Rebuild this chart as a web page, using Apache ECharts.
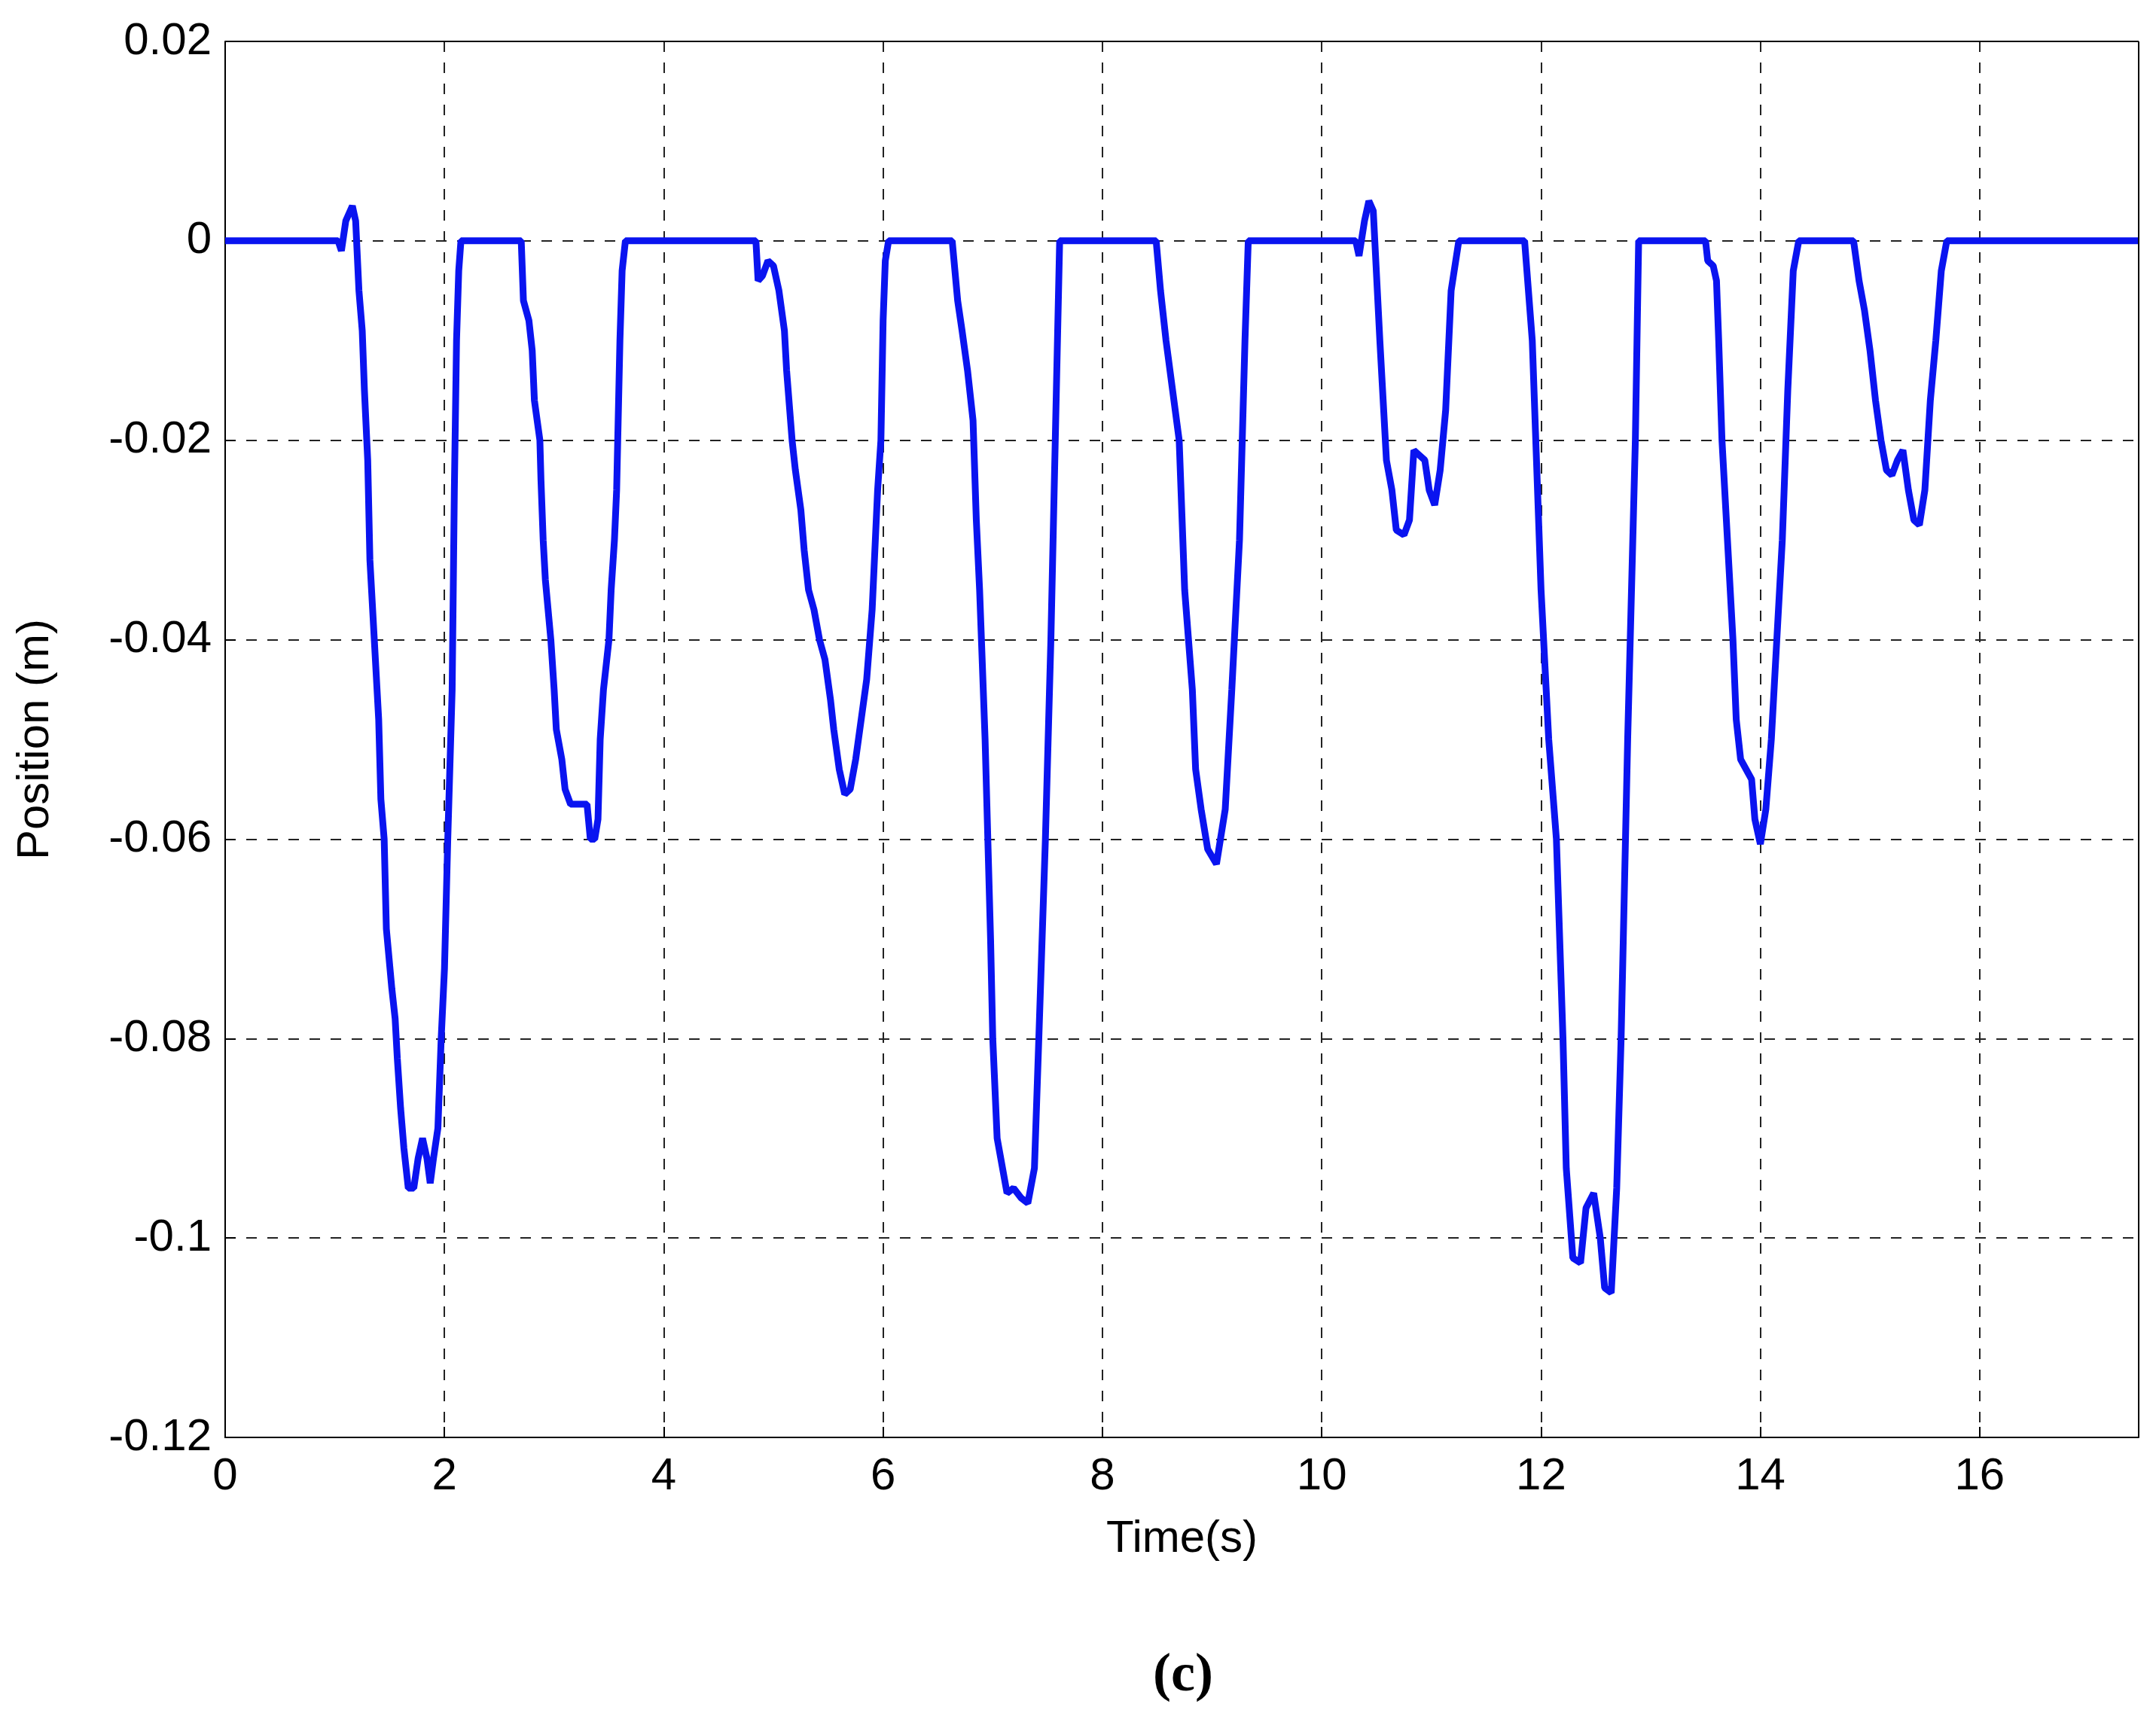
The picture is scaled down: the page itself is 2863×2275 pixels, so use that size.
<!DOCTYPE html>
<html>
<head>
<meta charset="utf-8">
<script src="https://cdn.jsdelivr.net/npm/echarts@6/dist/echarts.min.js"></script>
<style>
html, body { margin: 0; background: #fff; }
#chart { width: 2863px; height: 2275px; }
</style>
</head>
<body>
<div id="chart"></div>
<script>
// time (s) and position (m)
var times = [0, 1.03, 1.06, 1.1, 1.16, 1.19, 1.22, 1.25, 1.27, 1.3, 1.32, 1.36, 1.4, 1.42, 1.45, 1.47, 1.52, 1.55, 1.57, 1.6, 1.63, 1.67, 1.72, 1.76, 1.8, 1.84, 1.87, 1.9, 1.94, 1.97, 2.0, 2.03, 2.07, 2.09, 2.11, 2.13, 2.15,
	2.7, 2.72, 2.77, 2.8, 2.82, 2.87, 2.88, 2.9, 2.92, 2.97, 3.0, 3.02, 3.07, 3.1, 3.15, 3.3, 3.33, 3.37, 3.4, 3.42, 3.45, 3.5, 3.52, 3.55, 3.57, 3.6, 3.62, 3.65,
	4.84, 4.86, 4.9, 4.95, 5.0, 5.05, 5.1, 5.12, 5.17, 5.2, 5.25, 5.28, 5.32, 5.37, 5.42, 5.47, 5.52, 5.55, 5.6, 5.65, 5.7, 5.75, 5.8, 5.85, 5.9, 5.95, 5.98, 6.0, 6.02, 6.05,
	6.63, 6.68, 6.72, 6.77, 6.82, 6.85, 6.88, 6.93, 6.98, 7.0, 7.04, 7.13, 7.19, 7.26, 7.32, 7.38, 7.42, 7.48, 7.53, 7.57, 7.61,
	8.49, 8.53, 8.58, 8.64, 8.7, 8.75, 8.82, 8.85, 8.9, 8.96, 9.04, 9.12, 9.18, 9.25, 9.3, 9.33,
	10.31, 10.34, 10.39, 10.43, 10.47, 10.53, 10.59, 10.64, 10.68, 10.75, 10.8, 10.84, 10.94, 10.98, 11.03, 11.08, 11.13, 11.18, 11.25,
	11.85, 11.92, 12.0, 12.07, 12.14, 12.2, 12.23, 12.29, 12.36, 12.41, 12.48, 12.54, 12.58, 12.64, 12.69, 12.73, 12.79, 12.86, 12.89,
	13.5, 13.52, 13.57, 13.6, 13.62, 13.65, 13.7, 13.75, 13.78, 13.82, 13.87, 13.92, 13.95, 14.0, 14.05, 14.1, 14.15, 14.2, 14.25, 14.3, 14.35,
	14.85, 14.9, 14.95, 15.0, 15.05, 15.1, 15.15, 15.2, 15.25, 15.3, 15.35, 15.4, 15.45, 15.5, 15.55, 15.6, 15.65, 15.7, 17.45];
var positions = [0, 0, -0.001, 0.002, 0.0035, 0.002, -0.005, -0.009, -0.015, -0.022, -0.032, -0.04, -0.048, -0.056, -0.06, -0.069, -0.075, -0.078, -0.082, -0.087, -0.091, -0.095, -0.095, -0.092, -0.09, -0.092, -0.0945, -0.092, -0.089, -0.08, -0.073, -0.06, -0.045, -0.025, -0.01, -0.003, 0,
	0, -0.006, -0.008, -0.011, -0.016, -0.02, -0.024, -0.03, -0.034, -0.04, -0.045, -0.049, -0.052, -0.055, -0.0565, -0.0565, -0.06, -0.06, -0.058, -0.05, -0.045, -0.04, -0.035, -0.03, -0.025, -0.01, -0.003, 0,
	0, -0.004, -0.0035, -0.002, -0.0025, -0.005, -0.009, -0.013, -0.02, -0.023, -0.027, -0.031, -0.035, -0.037, -0.04, -0.042, -0.046, -0.049, -0.053, -0.0555, -0.055, -0.052, -0.048, -0.044, -0.037, -0.025, -0.02, -0.008, -0.002, 0,
	0, -0.006, -0.009, -0.013, -0.018, -0.028, -0.035, -0.05, -0.07, -0.08, -0.09, -0.0955, -0.095, -0.096, -0.0965, -0.093, -0.08, -0.06, -0.04, -0.02, 0,
	0, -0.005, -0.01, -0.015, -0.02, -0.035, -0.045, -0.053, -0.057, -0.061, -0.0625, -0.057, -0.045, -0.03, -0.01, 0,
	0, -0.0015, 0.002, 0.004, 0.003, -0.01, -0.022, -0.025, -0.029, -0.0295, -0.028, -0.021, -0.022, -0.025, -0.0265, -0.023, -0.017, -0.005, 0,
	0, -0.01, -0.035, -0.05, -0.06, -0.08, -0.093, -0.102, -0.1025, -0.097, -0.0955, -0.1, -0.105, -0.1055, -0.095, -0.08, -0.05, -0.02, 0,
	0, -0.002, -0.0025, -0.004, -0.01, -0.02, -0.03, -0.04, -0.048, -0.052, -0.053, -0.054, -0.058, -0.0605, -0.057, -0.05, -0.04, -0.03, -0.015, -0.003, 0,
	0, -0.004, -0.007, -0.011, -0.016, -0.02, -0.023, -0.0235, -0.022, -0.021, -0.025, -0.028, -0.0285, -0.025, -0.016, -0.01, -0.003, 0, 0];
var xTicks = [0, 2, 4, 6, 8, 10, 12, 14, 16];
var yTicks = [0.02, 0, -0.02, -0.04, -0.06, -0.08, -0.1, -0.12];

var data = [];
times.forEach(function(t, i) {
	data.push([t, positions[i]]);
});

var font = 'Liberation Sans, Arial, sans-serif';
var chart = echarts.init(document.getElementById('chart'));
chart.setOption({
	animation: false,
	backgroundColor: '#fff',
	title: {
		text: '(c)',
		left: 1566,
		top: 2185,
		textAlign: 'center',
		textStyle: { fontFamily: 'Liberation Serif, serif', fontWeight: 'bold', fontSize: 72, color: '#000' }
	},
	grid: { left: 299, right: 23, top: 55, height: 1854 },
	xAxis: {
		type: 'value',
		min: 0,
		max: 17.45,
		interval: 2,
		name: 'Time(s)',
		nameLocation: 'middle',
		nameGap: 105,
		nameTextStyle: { fontFamily: font, fontSize: 60, color: '#000' },
		axisLine: { onZero: false, lineStyle: { color: '#000', width: 2 } },
		axisTick: { inside: true, length: 14, lineStyle: { color: '#000', width: 2 } },
		axisLabel: {
			fontFamily: font, fontSize: 60, color: '#000', margin: 22,
			formatter: function(v) { return xTicks.indexOf(v) >= 0 ? String(v) : ''; }
		},
		splitLine: { show: true, lineStyle: { color: '#222', type: [14, 14], width: 2 } }
	},
	yAxis: {
		type: 'value',
		min: -0.12,
		max: 0.02,
		interval: 0.02,
		name: 'Position (m)',
		nameLocation: 'middle',
		nameGap: 222,
		nameTextStyle: { fontFamily: font, fontSize: 60, color: '#000' },
		axisLine: { show: true, onZero: false, lineStyle: { color: '#000', width: 2 } },
		axisTick: { inside: true, length: 14, lineStyle: { color: '#000', width: 2 } },
		axisLabel: {
			fontFamily: font, fontSize: 60, color: '#000', margin: 18,
			formatter: function(v) {
				var r = Math.round(v * 100) / 100;
				return yTicks.indexOf(r) >= 0 ? String(r) : '';
			}
		},
		splitLine: { show: true, lineStyle: { color: '#222', type: [14, 14], width: 2 } }
	},
	series: [{
		type: 'line',
		data: data,
		showSymbol: false,
		lineStyle: { color: '#0a14f0', width: 9 },
		markLine: {
			silent: true, symbol: 'none', label: { show: false },
			lineStyle: { color: '#000', type: 'solid', width: 2 },
			data: [{ xAxis: 17.45 }, { yAxis: 0.02 }]
		}
	}]
});
</script>
</body>
</html>
